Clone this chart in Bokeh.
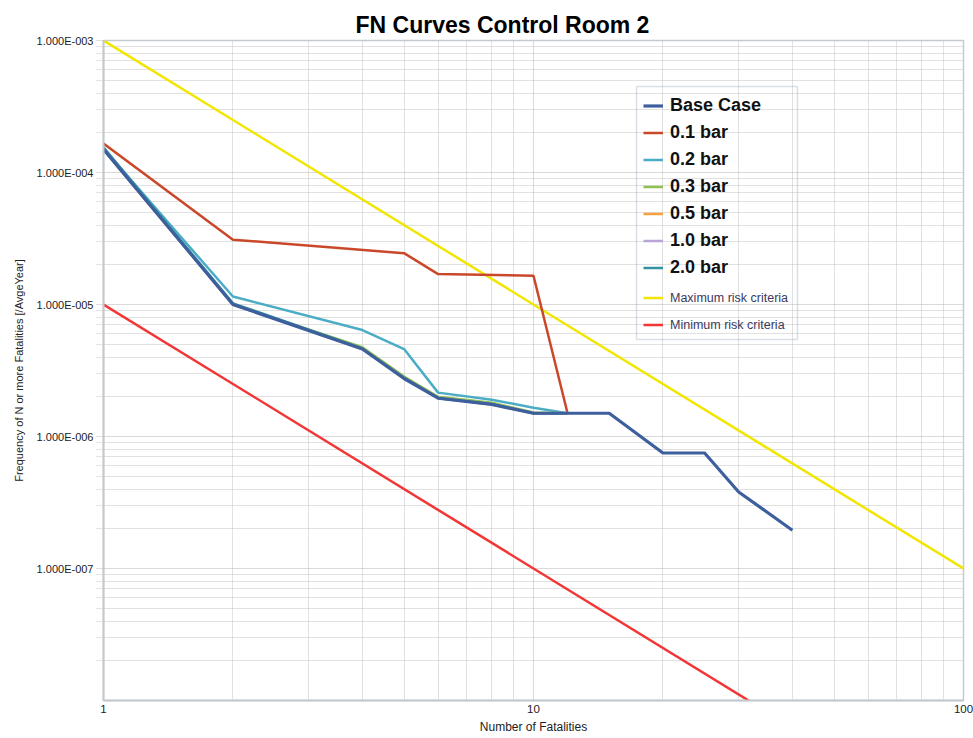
from bokeh.plotting import figure
from bokeh.models import (Legend, LegendItem, BoxAnnotation, FixedTicker,
                          CustomJSTickFormatter, Range1d)
from bokeh.embed import file_html
from bokeh.resources import INLINE

# ---- data ----
n_base = [1, 2, 4, 5, 6, 8, 10, 12, 15, 20, 25, 30, 40]
f_base = [1.5e-4, 1.0e-5, 4.6e-6, 2.75e-6, 1.95e-6, 1.75e-6, 1.5e-6,
          1.5e-6, 1.5e-6, 7.5e-7, 7.5e-7, 3.8e-7, 1.95e-7]

n_01 = [1, 2, 5, 6, 10, 12]
f_01 = [1.66e-4, 3.1e-5, 2.45e-5, 1.7e-5, 1.65e-5, 1.5e-6]

n_sens = [1, 2, 4, 5, 6, 8, 10, 12]
f_02 = [1.52e-4, 1.15e-5, 6.4e-6, 4.6e-6, 2.15e-6, 1.9e-6, 1.65e-6, 1.5e-6]
f_03 = [1.5e-4, 1.0e-5, 4.75e-6, 2.85e-6, 2.0e-6, 1.8e-6, 1.52e-6, 1.5e-6]
f_05 = [1.5e-4, 1.0e-5, 4.65e-6, 2.78e-6, 1.96e-6, 1.76e-6, 1.5e-6, 1.5e-6]
f_10 = [1.5e-4, 1.0e-5, 4.6e-6, 2.75e-6, 1.95e-6, 1.75e-6, 1.5e-6, 1.5e-6]
f_20 = [1.55e-4, 1.02e-5, 4.65e-6, 2.78e-6, 1.96e-6, 1.76e-6, 1.5e-6, 1.5e-6]

n_crit = [1, 100]
f_max = [1e-3, 1e-7]
f_min = [1e-5, 1e-9]

x_ticks = [1, 10, 100]
y_ticks = [1e-7, 1e-6, 1e-5, 1e-4, 1e-3]

FONT = "Liberation Sans"

p = figure(width=973, height=738, x_axis_type="log", y_axis_type="log",
           x_range=Range1d(1, 100), y_range=Range1d(1e-8, 1e-3),
           output_backend="svg", toolbar_location=None, tools="",
           min_border_left=103, min_border_right=10, min_border_top=40,
           min_border_bottom=38, title="FN Curves Control Room 2")

p.background_fill_color = "white"
p.border_fill_color = "white"
p.outline_line_color = "#c5c9d0"
p.outline_line_width = 1.5

p.title.text_font = FONT
p.title.text_font_size = "23px"
p.title.text_font_style = "bold"
p.title.text_color = "#000000"
p.title.align = "left"
p.title.offset = 252
p.title.standoff = 5

# axes
xminor = [m * 10 ** e for e in range(0, 2) for m in range(2, 10)]
yminor = [m * 10.0 ** e for e in range(-8, -3) for m in range(2, 10)]
p.xaxis.ticker = FixedTicker(ticks=x_ticks, minor_ticks=xminor)
p.yaxis.ticker = FixedTicker(ticks=y_ticks, minor_ticks=yminor)
p.xaxis.formatter = CustomJSTickFormatter(code="return String(Math.round(tick));")
p.yaxis.formatter = CustomJSTickFormatter(code="""
const e = Math.round(Math.log10(tick));
const s = e < 0 ? "-" : "+";
return "1.000E" + s + String(Math.abs(e)).padStart(3, "0");
""")

for ax in (p.xaxis[0], p.yaxis[0]):
    ax.axis_line_color = "#c5c9d0"
    ax.axis_line_width = 2
    ax.major_label_text_font = FONT
    ax.axis_label_text_font = FONT
    ax.axis_label_text_font_style = "normal"
    ax.axis_label_text_color = "#222222"
    ax.major_label_text_color = "#222222"

p.xaxis.major_tick_out = 0
p.xaxis.major_tick_in = 0
p.xaxis.minor_tick_out = 0
p.xaxis.minor_tick_in = 0
p.xaxis.major_label_text_font_size = "11.5px"
p.xaxis.major_label_standoff = 4
p.xaxis.axis_label = "Number of Fatalities"
p.xaxis.axis_label_text_font_size = "12px"
p.xaxis.axis_label_standoff = 4

p.yaxis.major_tick_in = 0
p.yaxis.minor_tick_in = 0
p.yaxis.major_tick_out = 7
p.yaxis.minor_tick_out = 7
p.yaxis.major_tick_line_color = "#bcbcbc"
p.yaxis.minor_tick_line_color = "#c8c8c8"
p.yaxis.major_tick_line_dash = "1 1"
p.yaxis.minor_tick_line_dash = "1 1"
p.yaxis.major_label_text_font_size = "11px"
p.yaxis.major_label_standoff = 3
p.yaxis.axis_label = "Frequency of N or more Fatalities [/AvgeYear]"
p.yaxis.axis_label_text_font_size = "11px"
p.yaxis.axis_label_standoff = 9

for g in (p.xgrid[0], p.ygrid[0]):
    g.grid_line_color = "#b4b4b4"
    g.grid_line_dash = "1 1"
    g.grid_line_width = 1
    g.minor_grid_line_color = "#c2c2c2"
    g.minor_grid_line_dash = "1 1"
    g.minor_grid_line_width = 1

# series (base case drawn last so it sits on top)
r_max = p.line(n_crit, f_max, line_color="#f2e600", line_width=2.5)
r_min = p.line(n_crit, f_min, line_color="#f23535", line_width=2.5)
r_01 = p.line(n_01, f_01, line_color="#c9482a", line_width=2.5)
r_02 = p.line(n_sens, f_02, line_color="#4bacc6", line_width=2.5)
r_03 = p.line(n_sens, f_03, line_color="#8fc251", line_width=2.5)
r_05 = p.line(n_sens, f_05, line_color="#f7a040", line_width=2.5)
r_10 = p.line(n_sens, f_10, line_color="#b8a4d6", line_width=2.5)
r_20 = p.line(n_sens, f_20, line_color="#31939f", line_width=2.5)
r_base = p.line(n_base, f_base, line_color="#3d5f9e", line_width=3.2)

# legend frame (transparent, grid shows through as in the reference)
box = BoxAnnotation(left=17.36, right=41.1, bottom=5.43e-6, top=4.48e-4,
                    fill_alpha=0, line_color="#8592a8", line_width=1.5)
p.add_layout(box)

big = Legend(items=[
    LegendItem(label="Base Case", renderers=[r_base]),
    LegendItem(label="0.1 bar", renderers=[r_01]),
    LegendItem(label="0.2 bar", renderers=[r_02]),
    LegendItem(label="0.3 bar", renderers=[r_03]),
    LegendItem(label="0.5 bar", renderers=[r_05]),
    LegendItem(label="1.0 bar", renderers=[r_10]),
    LegendItem(label="2.0 bar", renderers=[r_20]),
], location=(540, 419))
small = Legend(items=[
    LegendItem(label="Maximum risk criteria", renderers=[r_max]),
    LegendItem(label="Minimum risk criteria", renderers=[r_min]),
], location=(540, 362))

for lg, fs, st, col in ((big, "18px", "bold", "#111111"),
                        (small, "12.5px", "normal", "#3a3a5c")):
    lg.label_text_font = FONT
    lg.label_text_font_size = fs
    lg.label_text_font_style = st
    lg.label_text_color = col
    lg.label_height = 27
    lg.glyph_height = 27
    lg.glyph_width = 20
    lg.label_standoff = 7
    lg.spacing = 0
    lg.padding = 0
    lg.margin = 0
    lg.border_line_alpha = 0
    lg.background_fill_alpha = 0
    p.add_layout(lg)

open("out.html", "w").write(file_html(p, INLINE))
